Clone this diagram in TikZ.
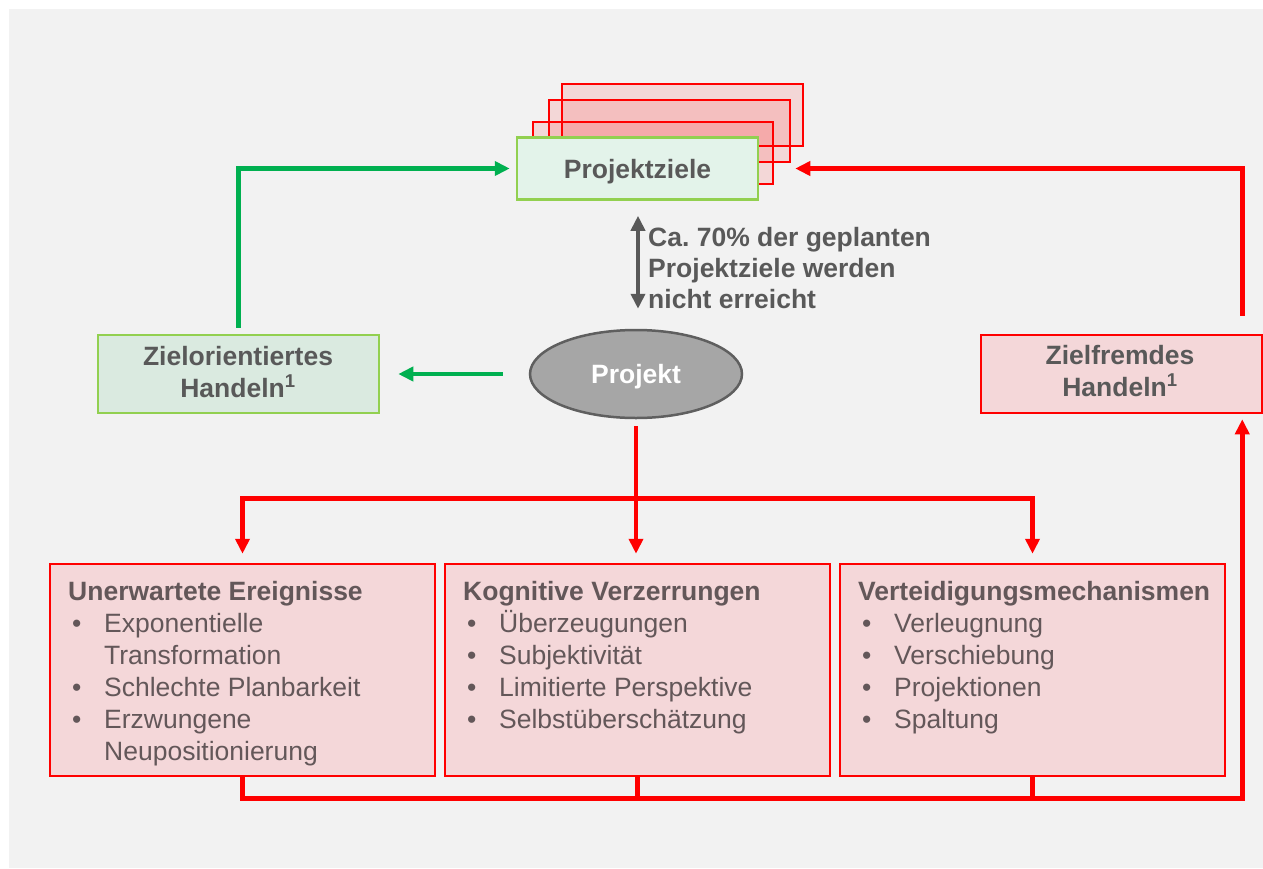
\documentclass[tikz,border=0pt]{standalone}
\usepackage{fontspec}
\setmainfont{Liberation Sans}
\usetikzlibrary{arrows.meta,shapes.geometric,calc}
\frenchspacing
\definecolor{panelgray}{HTML}{F2F2F2}
\definecolor{txtgray}{HTML}{595959}
\definecolor{txtbrown}{HTML}{635759}
\definecolor{arrgreen}{HTML}{00B050}
\definecolor{boxgreen}{HTML}{92D050}
\definecolor{fillgreen}{HTML}{DAEAE0}
\definecolor{fillgreenlt}{HTML}{E3F3EA}
\definecolor{fillpink}{HTML}{F4D7D9}
\definecolor{ellfill}{HTML}{A6A6A6}
\definecolor{ellline}{HTML}{5F5F5F}
\newcommand\bitem{\makebox[36pt][l]{\hspace{4pt}\textbullet}}
\newcommand\bcont{\hspace*{36pt}}
\newcommand\leftlines[1]{\vtop{\halign{##\hfil\cr#1\cr}}}
\newcommand\centerlines[1]{\vtop{\halign{\hfil##\hfil\cr#1\cr}}}
\begin{document}
\begin{tikzpicture}[x=1pt,y=-1pt,
  tip/.style={-{Triangle[length=15pt,width=14pt]}},
  stackbox/.style={draw=red, line width=2.5pt, fill=red, fill opacity=0.11, draw opacity=1,
    minimum width=241pt, minimum height=62pt, inner sep=0pt},
  greenbox/.style={draw=boxgreen, line width=2.5pt, fill=fillgreen,
    minimum width=281pt, minimum height=78pt, inner sep=0pt},
  pinkbox/.style={draw=red, line width=2.5pt, fill=fillpink, inner sep=0pt},
  lbl/.style={text=txtgray, font=\bfseries\fontsize{26.5}{32}\selectfont, inner sep=0pt},
  boxtext/.style={text=txtbrown, font=\fontsize{26.5}{32}\selectfont, inner sep=0pt},
  greenarrow/.style={draw=arrgreen, line width=4.5pt, tip},
  redline/.style={draw=red, line width=4.5pt},
  redarrow/.style={redline, tip},
  grayarrow/.style={draw=txtgray, line width=4pt,
    {Triangle[length=15pt,width=14pt]}-{Triangle[length=15pt,width=14pt]}}
]
\useasboundingbox (0,0) rectangle (1263,868);
\fill[white] (0,0) rectangle (1263,868);
\fill[panelgray] (9,9) rectangle (1263,868);

% stacked goal boxes
\node[stackbox] (s3) at (682.5,115) {};
\node[stackbox] (s2) at (669.5,131) {};
\node[stackbox, minimum width=240pt] (s1) at (653,153) {};
\node[greenbox, fill=fillgreenlt, minimum width=241pt, minimum height=62pt, lbl, text depth=0pt] (pz) at (637.5,168.5) {Projektziele};

% side boxes
\node[greenbox] (zo) at (238.5,374) {};
\node[lbl, anchor=base] (zot) at (238,365) {\centerlines{Zielorientiertes\cr Handeln\textsuperscript{1}}};
\node[pinkbox, minimum width=281pt, minimum height=78pt] (zf) at (1121.5,374) {};
\node[lbl, anchor=base] (zft) at (1120,364) {\centerlines{Zielfremdes\cr Handeln\textsuperscript{1}}};

% project ellipse
\node[ellipse, draw=ellline, line width=2.5pt, fill=ellfill, minimum width=212pt, minimum height=88pt,
  inner sep=0pt, text=white, font=\bfseries\fontsize{26.5}{32}\selectfont, text depth=0pt] (pr) at (636,374) {Projekt};

% note
\node[lbl, anchor=base west, font=\bfseries\fontsize{26.5}{31}\selectfont] (note) at (648,246)
  {\leftlines{Ca. 70\% der geplanten\cr Projektziele werden\cr nicht erreicht}};

% bottom boxes
\node[pinkbox, minimum width=385pt, minimum height=212pt] (b1) at (242.5,670) {};
\node[pinkbox, minimum width=385pt, minimum height=212pt] (b2) at (637.5,670) {};
\node[pinkbox, minimum width=385pt, minimum height=212pt] (b3) at (1032.5,670) {};
\node[boxtext, anchor=base west] (b1t) at (68,600) {\leftlines{\textbf{Unerwartete Ereignisse}\cr\bitem Exponentielle\cr\bcont Transformation\cr\bitem Schlechte Planbarkeit\cr\bitem Erzwungene\cr\bcont Neupositionierung}};
\node[boxtext, anchor=base west] (b2t) at (463,600) {\leftlines{\textbf{Kognitive Verzerrungen}\cr\bitem Überzeugungen\cr\bitem Subjektivität\cr\bitem Limitierte Perspektive\cr\bitem Selbstüberschätzung}};
\node[boxtext, anchor=base west] (b3t) at (858,600) {\leftlines{\textbf{Verteidigungsmechanismen}\cr\bitem Verleugnung\cr\bitem Verschiebung\cr\bitem Projektionen\cr\bitem Spaltung}};

% connectors
\draw[greenarrow, shorten <=6pt, shorten >=6pt] (zo.north) |- (pz.west);
\draw[greenarrow, shorten <=26pt, shorten >=18pt] (pr.west) -- (zo.east);
\coordinate (gx) at ($(pr.north)+(2,0)$);
\draw[grayarrow, shorten <=15pt, shorten >=20pt] (gx |- pz.south) -- (gx);
\coordinate (pzr) at ($(pz.east)+(36,0)$);
\draw[redarrow] ($(zf.north east)+(-21,-18)$) |- (pzr);
\draw[redarrow, shorten <=7pt, shorten >=9pt] (pr.south) -- (pr.south |- b2.north);
\coordinate (fk) at ($(pr.south)+(0,79)$);
\draw[redarrow, shorten >=9pt] (fk) -| (b1.north);
\draw[redarrow, shorten >=9pt] (fk) -| (b3.north);
\coordinate (bk) at ($(zf.south east)+(-21,384)$);
\draw[redline] (b2.south) -- (b2.south |- bk);
\draw[redline] (b3.south) -- (b3.south |- bk);
\draw[redarrow, shorten >=5pt] (b1.south) |- (bk) -- (bk |- zf.south);
\end{tikzpicture}
\end{document}
